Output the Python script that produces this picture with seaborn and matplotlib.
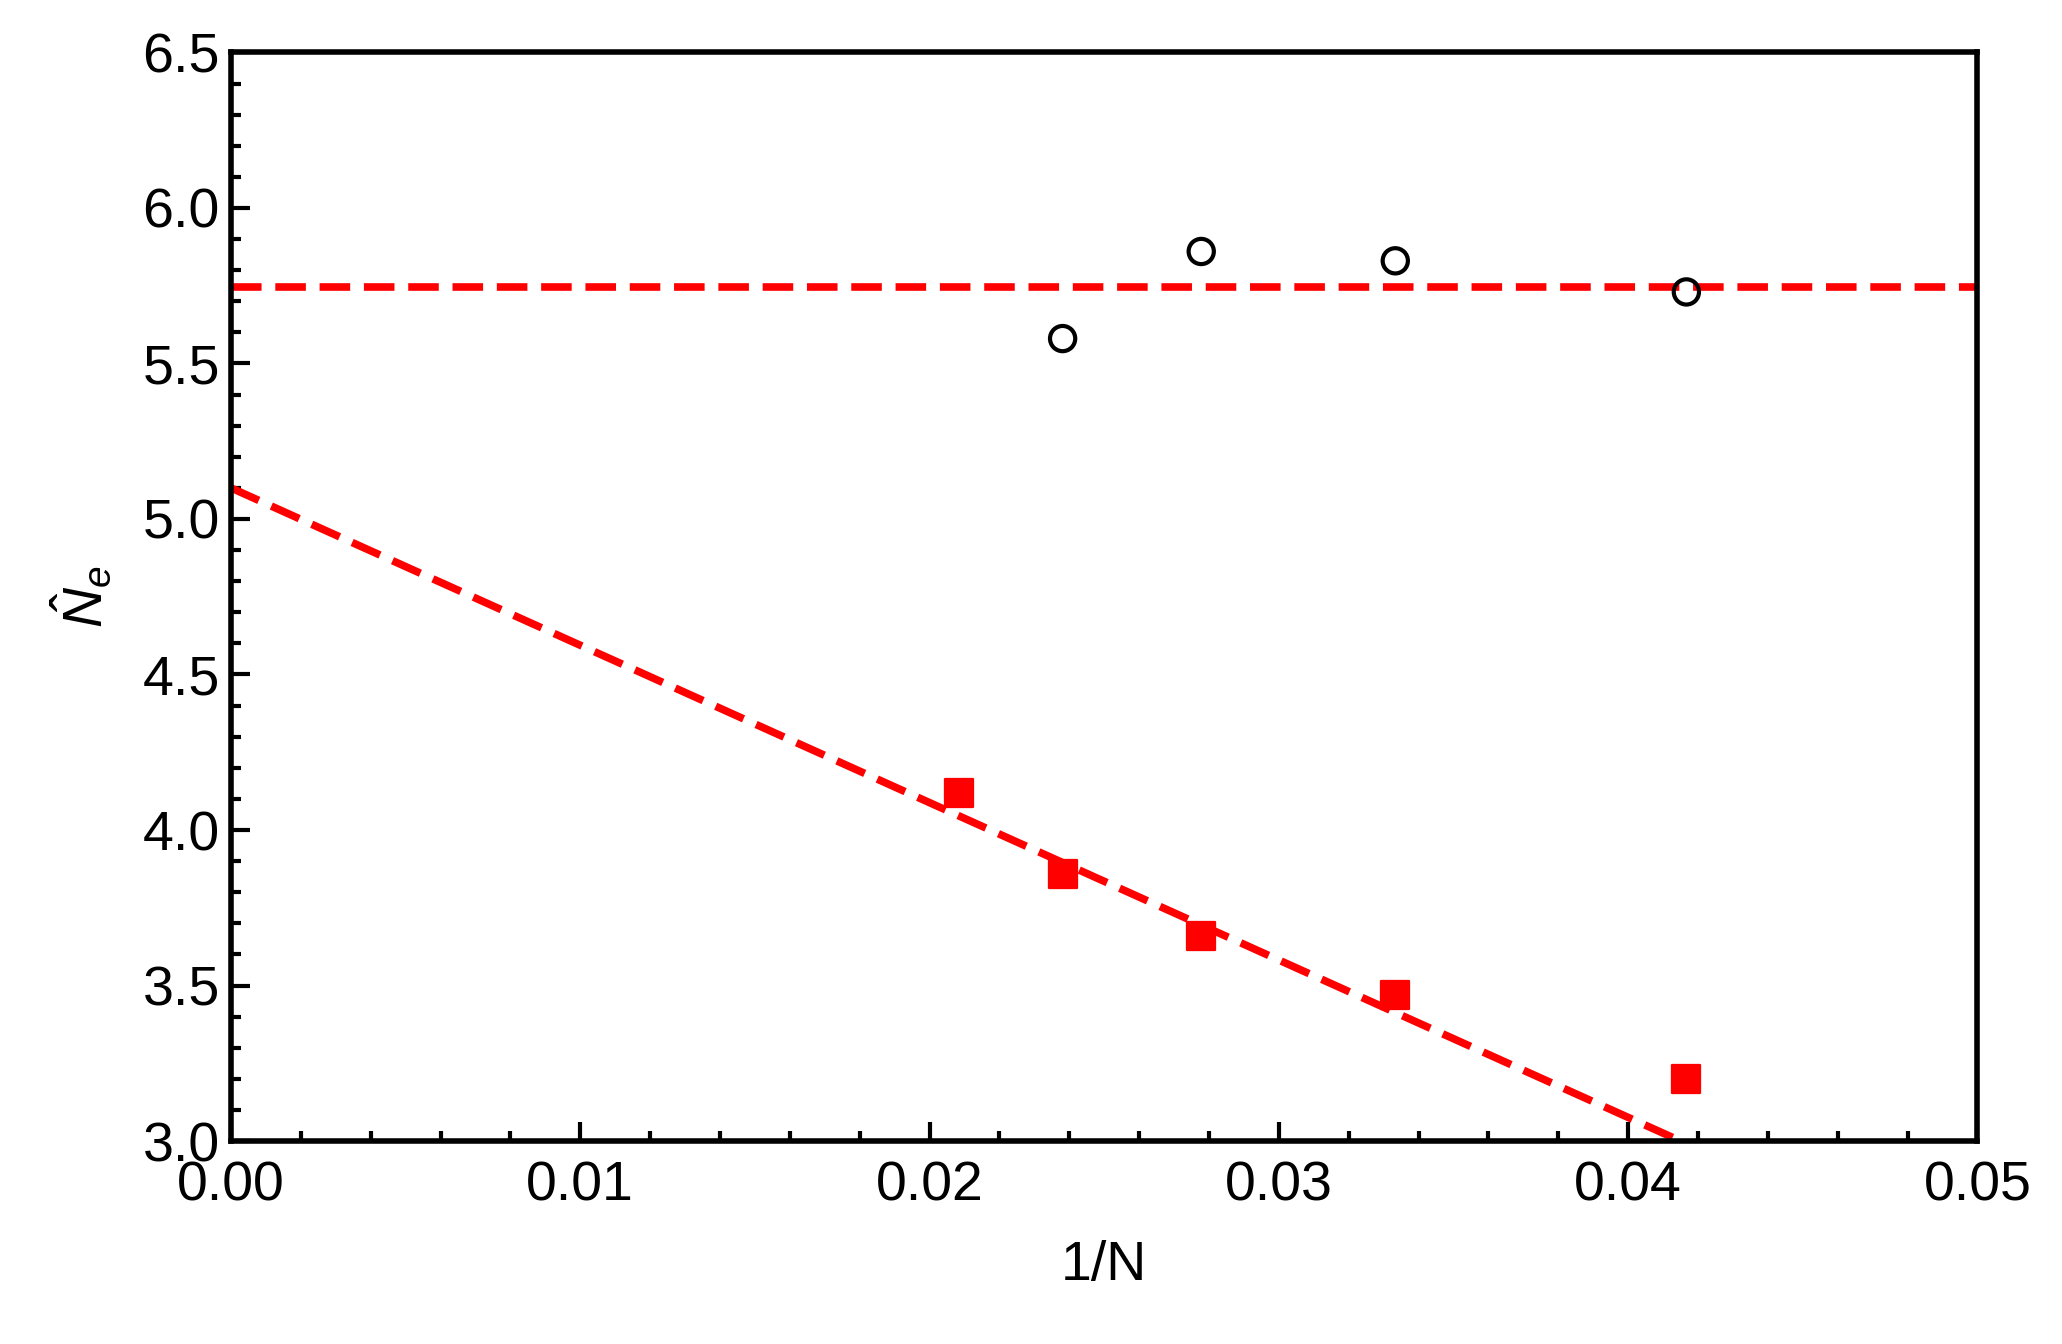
import numpy as np
import matplotlib
matplotlib.use('Agg')
import matplotlib.pyplot as plt
import seaborn as sns
from matplotlib.ticker import MultipleLocator

sns.set_style('ticks')
plt.rcParams['font.family'] = ['Liberation Sans', 'DejaVu Sans']
plt.rcParams['mathtext.fontset'] = 'custom'
plt.rcParams['mathtext.it'] = 'Liberation Sans:italic'
plt.rcParams['mathtext.rm'] = 'Liberation Sans'

# open circles
circ_x = [1/42, 1/36, 1/30, 1/24]
circ_y = [5.58, 5.86, 5.83, 5.73]
# red squares
sq_x = [1/48, 1/42, 1/36, 1/30, 1/24]
sq_y = [4.12, 3.86, 3.66, 3.47, 3.20]
# fits
flat_level = 5.745
fit_intercept = 5.10
fit_slope = -50.6

fig = plt.figure(figsize=(20.62, 13.44), dpi=100)
ax = fig.add_axes([0.112, 0.151, 0.853 - 0.006, 0.810])

xs = np.array([0.0, 0.05])
ax.plot(xs, [flat_level, flat_level], ls=(0, (4, 1.8)), color='red', lw=5.5)
ax.plot(xs, fit_intercept + fit_slope * xs, ls=(0, (4, 1.8)), color='red', lw=5.5)
sns.scatterplot(x=circ_x, y=circ_y, ax=ax, marker='o', s=330, facecolor='none',
                edgecolor='black', linewidth=3, zorder=5)
sns.scatterplot(x=sq_x, y=sq_y, ax=ax, marker='s', s=420, color='red',
                edgecolor='red', zorder=5)

ax.set_xlim(0, 0.05)
ax.set_ylim(3.0, 6.5)
ax.xaxis.set_major_locator(MultipleLocator(0.01))
ax.xaxis.set_minor_locator(MultipleLocator(0.002))
ax.yaxis.set_major_locator(MultipleLocator(0.5))
ax.yaxis.set_minor_locator(MultipleLocator(0.1))
ax.xaxis.set_major_formatter(matplotlib.ticker.FormatStrFormatter('%.2f'))
ax.yaxis.set_major_formatter(matplotlib.ticker.FormatStrFormatter('%.1f'))
ax.tick_params(which='both', direction='in', width=3, labelsize=40,
               colors='black')
ax.tick_params(axis='x', pad=14)
ax.tick_params(axis='y', pad=8)
ax.tick_params(which='major', length=14)
ax.tick_params(which='minor', length=7)
for s in ax.spines.values():
    s.set_linewidth(4)
    s.set_color('black')
ax.set_xlabel('1/N', fontsize=40, labelpad=20, color='black')
ax.set_ylabel(r'$\hat{N}_e$', fontsize=40, labelpad=20, color='black')

fig.savefig('out.png', dpi=100)
